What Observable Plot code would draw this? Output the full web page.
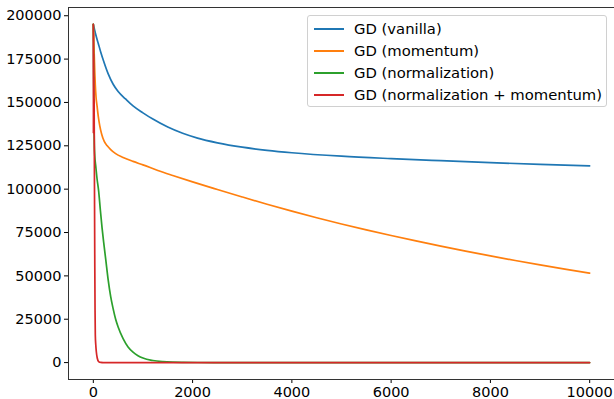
<!DOCTYPE html>
<html>
<head>
<meta charset="utf-8">
<script src="https://cdn.jsdelivr.net/npm/d3@7"></script>
<script src="https://cdn.jsdelivr.net/npm/@observablehq/plot@0.6"></script>
<style>
  html, body { margin: 0; padding: 0; background: #fff; }
  #wrap { position: relative; width: 614px; height: 399px; }
  #legend {
    position: absolute; left: 307px; top: 15px; width: 300px; height: 92px;
    border: 1px solid #d0d0d0; border-radius: 3px; background: rgba(255,255,255,0.8);
    font-family: "DejaVu Sans", sans-serif; font-size: 14.8px; color: #000;
    box-sizing: border-box;
  }
  .row { position: absolute; left: 0; height: 20px; line-height: 20px; white-space: nowrap; }
  .sw { position: absolute; left: 6px; top: 9px; width: 30px; height: 0; border-top: 2px solid; }
  .lb { position: absolute; left: 46px; top: 0; }
</style>
</head>
<body>
<div id="wrap"><div id="legend"></div></div>
<script>
const seriesNames = ["GD (vanilla)", "GD (momentum)", "GD (normalization)", "GD (normalization + momentum)"];
const seriesColors = ["#1f77b4", "#ff7f0e", "#2ca02c", "#d62728"];

const vanillaX = [0, 25, 50, 100, 150, 200, 300, 400, 500, 650, 800, 1000, 1200, 1500, 1800, 2100, 2500, 3000, 3500, 4000, 5000, 6000, 7000, 8000, 9000, 9999];
const vanillaY = [195000, 192000, 189000, 184000, 179000, 174500, 166500, 160500, 156300, 152000, 148000, 144000, 140400, 135800, 132200, 129400, 126700, 124200, 122400, 121000, 119000, 117600, 116400, 115300, 114300, 113400];

const momentumX = [0, 10, 20, 30, 40, 55, 75, 100, 130, 170, 220, 280, 350, 450, 600, 800, 1000, 1300, 1600, 2000, 2500, 3000, 3500, 4000, 4500, 5000, 5500, 6000, 6500, 7000, 7500, 8000, 8500, 9000, 9500, 9999];
const momentumY = [195000, 185000, 176000, 167000, 160000, 153000, 148000, 142000, 136500, 131500, 127500, 125000, 122800, 120500, 118300, 116000, 114000, 110800, 107900, 104200, 99800, 95500, 91300, 87300, 83500, 79900, 76500, 73300, 70200, 67200, 64300, 61500, 58850, 56300, 53900, 51600];

const normX = [0, 5, 10, 15, 20, 30, 50, 75, 107, 140, 175, 210, 250, 300, 350, 400, 450, 500, 600, 700, 800, 900, 1000, 1200, 1400, 1600, 1800, 2100, 2500, 3000, 9999];
const normY = [195000, 170000, 150000, 135000, 126000, 119000, 113000, 106000, 99000, 88500, 78000, 69000, 59500, 47500, 38000, 31000, 25000, 20500, 13800, 9000, 6000, 4000, 2600, 1200, 550, 250, 120, 50, 20, 0, 0];

const normMomX = [0, 2, 4, 6, 8, 10, 12, 14, 16, 20, 25, 30, 35, 40, 50, 60, 80, 107, 150, 200, 9999];
const normMomY = [195000, 132000, 190000, 136000, 178000, 142000, 165000, 148000, 152000, 125000, 90000, 55000, 30000, 16000, 10000, 6400, 2500, 600, 100, 0, 0];

const xTicks = [0, 2000, 4000, 6000, 8000, 10000];
const yTicks = [0, 25000, 50000, 75000, 100000, 125000, 150000, 175000, 200000];

const xs = [vanillaX, momentumX, normX, normMomX];
const ys = [vanillaY, momentumY, normY, normMomY];
const tables = xs.map((X, i) => X.map((x, j) => ({x, y: ys[i][j]})));

const plot = Plot.plot({
  width: 614,
  height: 399,
  marginLeft: 68,
  marginRight: 0,
  marginTop: 7,
  marginBottom: 20,
  style: {fontFamily: "DejaVu Sans, sans-serif", fontSize: "14.5px", color: "#000", background: "#fff"},
  x: {domain: [-500, 10500], ticks: xTicks, tickFormat: d => String(d), tickSize: 4, tickPadding: 3, label: null},
  y: {domain: [-9750, 204750], ticks: yTicks, tickFormat: d => String(d), tickSize: 4, tickPadding: 3, label: null},
  marks: [
    ...tables.map((t, i) => Plot.line(t, {x: "x", y: "y", stroke: seriesColors[i], strokeWidth: 1.7, curve: "monotone-x"})),
    Plot.frame({stroke: "#333", strokeWidth: 1})
  ]
});
document.getElementById("wrap").insertBefore(plot, document.getElementById("legend"));

const legend = document.getElementById("legend");
seriesNames.forEach((name, i) => {
  const row = document.createElement("div");
  row.className = "row";
  row.style.top = (3 + i * 22) + "px";
  const sw = document.createElement("div");
  sw.className = "sw";
  sw.style.borderTopColor = seriesColors[i];
  const lb = document.createElement("div");
  lb.className = "lb";
  lb.textContent = name;
  row.appendChild(sw); row.appendChild(lb);
  legend.appendChild(row);
});
</script>
</body>
</html>
